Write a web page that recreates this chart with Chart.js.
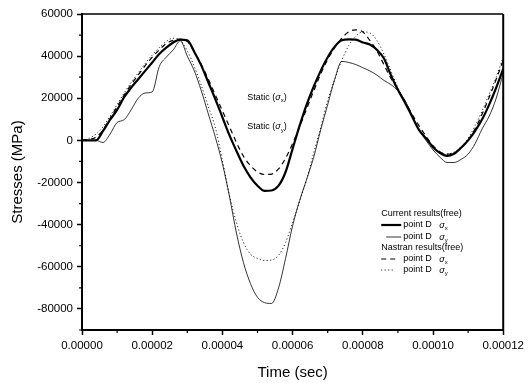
<!DOCTYPE html>
<html>
<head>
<meta charset="utf-8">
<script src="https://cdn.jsdelivr.net/npm/chart.js@4.4.1/dist/chart.umd.min.js"></script>
<style>
  html, body { margin: 0; padding: 0; background: #fff; }
  canvas { display: block; }
</style>
</head>
<body>
<canvas id="chart" width="528" height="383"></canvas>
<script>
// time in microseconds, converted to seconds when the datasets are built
const timeUs = [0, 2, 4, 6, 8, 10, 12, 14, 16, 18, 20, 22, 24, 26, 28, 30, 32, 34, 36, 38,
  40, 42, 44, 46, 48, 50, 52, 54, 56, 58, 60, 62, 64, 66, 68, 70, 72, 74, 76, 78,
  80, 82, 84, 86, 88, 90, 92, 94, 96, 98, 100, 102, 104, 106, 108, 110, 112, 114, 116, 118, 120];

// Current results (free), point D sigma_x  (thick solid)
const currentSx = [0, 0, 0, 4500, 9800, 14500, 20500, 25000, 29000, 33000, 37000, 41000, 44000, 46500, 47800, 47500,
  42000, 35500, 27500, 19500, 11000, 2500, -5000, -12000, -17500, -21500, -24000, -23800, -21500, -15000,
  -4000, 7000, 17000, 25500, 33000, 39500, 44500, 47500, 48000, 47800, 46500, 45500, 43000, 39000, 31000,
  24000, 18000, 11500, 5000, 1000, -3200, -6000, -7300, -6300, -3500, 0, 4500, 10000, 17000, 25000, 34000];

// Current results (free), point D sigma_y  (thin solid)
const currentSy = [0, 0, 0, -1000, 3000, 8500, 9800, 14500, 20000, 22500, 23000, 35000, 39500, 43000, 47300, 40000,
  33000, 23500, 12500, 1500, -11000, -26500, -44000, -58000, -68000, -74500, -77000, -77400, -70000, -56000,
  -40500, -28500, -18500, -8000, 5000, 17000, 29000, 37500, 37000, 36000, 34500, 33000, 31000, 28500, 26500,
  23500, 19000, 12000, 5000, 0, -4500, -8000, -10500, -10500, -9000, -6500, -1500, 5500, 11500, 20000, 32000];

// Nastran results (free), point D sigma_x  (dashed)
const nastranSx = [0, 500, 1500, 5000, 10500, 16000, 21500, 26500, 31000, 35500, 39500, 43000, 46000, 47500, 48000, 47000,
  42000, 36000, 29000, 21500, 14000, 6500, -1000, -7500, -12000, -15000, -16200, -16000, -13500, -8500,
  -1500, 6500, 15000, 23500, 31500, 38500, 44000, 48500, 51500, 52500, 51500, 47500, 42500, 36000, 29500,
  24000, 18500, 12500, 7000, 2000, -2500, -5500, -6500, -6000, -3500, 0, 5500, 12500, 20500, 29000, 38000];

// Nastran results (free), point D sigma_y  (dotted)
const nastranSy = [0, 1000, 3000, 6500, 11500, 17000, 22500, 27500, 32000, 36500, 40500, 44000, 47000, 48500, 47500, 42500,
  35000, 26000, 16000, 6000, -9500, -26000, -39000, -48500, -54000, -56000, -57000, -56800, -54500, -48500,
  -39000, -29000, -18500, -6000, 6000, 19000, 29000, 38000, 45000, 49500, 51500, 51000, 47500, 41000, 33000,
  25000, 18000, 11500, 5500, 1000, -3000, -5500, -6500, -5500, -3000, 1000, 7000, 14000, 22000, 30000, 39500];

const xTicks = [0, 0.00002, 0.00004, 0.00006, 0.00008, 0.0001, 0.00012];
const xMinorTicks = [0.00001, 0.00003, 0.00005, 0.00007, 0.00009, 0.00011];
const yTicks = [-80000, -60000, -40000, -20000, 0, 20000, 40000, 60000];
const yMinorTicks = [-90000, -70000, -50000, -30000, -10000, 10000, 30000, 50000];

const FONT = "'Liberation Sans', Arial, sans-serif";

function toPoints(values) {
  return values.map((v, i) => ({ x: timeUs[i] * 1e-6, y: v }));
}

function drawSigma(ctx, x, y, sub, size) {
  ctx.font = `italic ${size}px ${FONT}`;
  ctx.fillText("\u03c3", x, y);
  const w = ctx.measureText("\u03c3").width;
  ctx.font = `${Math.round(size * 0.7)}px ${FONT}`;
  ctx.fillText(sub, x + w, y + size * 0.35);
  return w + ctx.measureText(sub).width;
}

function drawStatic(ctx, x, y, sub) {
  const size = 9;
  ctx.font = `${size}px ${FONT}`;
  ctx.fillText("Static (", x, y);
  let cx = x + ctx.measureText("Static (").width;
  cx += drawSigma(ctx, cx, y, sub, size);
  ctx.font = `${size}px ${FONT}`;
  ctx.fillText(")", cx, y);
}

const extrasPlugin = {
  id: "extrasPlugin",
  afterDraw(chart) {
    const { ctx, chartArea: area } = chart;
    const xs = chart.scales.x;
    const ys = chart.scales.y;

    ctx.save();
    ctx.strokeStyle = "#000";
    ctx.fillStyle = "#000";

    // top and right frame
    ctx.lineWidth = 1.5;
    ctx.beginPath();
    ctx.moveTo(area.left, area.top);
    ctx.lineTo(area.right, area.top);
    ctx.stroke();
    ctx.lineWidth = 2;
    ctx.beginPath();
    ctx.moveTo(area.right, area.top);
    ctx.lineTo(area.right, area.bottom + 1);
    ctx.stroke();

    // minor ticks, pointing outward
    ctx.lineWidth = 1.2;
    ctx.beginPath();
    xMinorTicks.forEach((v) => {
      const px = xs.getPixelForValue(v);
      ctx.moveTo(px, area.bottom);
      ctx.lineTo(px, area.bottom + 3);
    });
    yMinorTicks.forEach((v) => {
      const py = ys.getPixelForValue(v);
      ctx.moveTo(area.left, py);
      ctx.lineTo(area.left - 3, py);
    });
    ctx.stroke();

    // static labels
    ctx.textBaseline = "middle";
    ctx.textAlign = "left";
    const sx = xs.getPixelForValue(0.0000471);
    drawStatic(ctx, sx, ys.getPixelForValue(20500), "x");
    drawStatic(ctx, sx, ys.getPixelForValue(6400), "y");

    // legend
    const lx = area.right - 122;
    const rows = [214, 225, 237, 248, 259, 270];
    const size = 9;
    ctx.font = `${size}px ${FONT}`;
    ctx.fillText("Current results(free)", lx, rows[0]);
    ctx.fillText("Nastran results(free)", lx, rows[3]);

    const entries = [
      { row: rows[1], width: 2.2, dash: [], x0: lx, x1: lx + 20, sub: "x" },
      { row: rows[2], width: 0.8, dash: [], x0: lx + 5, x1: lx + 20, sub: "y" },
      { row: rows[4], width: 1.2, dash: [5, 4], x0: lx, x1: lx + 14, sub: "x" },
      { row: rows[5], width: 1, dash: [1, 2.5], x0: lx, x1: lx + 14, sub: "y" },
    ];
    entries.forEach((e) => {
      ctx.lineWidth = e.width;
      ctx.setLineDash(e.dash);
      ctx.beginPath();
      ctx.moveTo(e.x0, e.row);
      ctx.lineTo(e.x1, e.row);
      ctx.stroke();
      ctx.setLineDash([]);
      ctx.font = `${size}px ${FONT}`;
      ctx.fillText("point D", lx + 22, e.row);
      drawSigma(ctx, lx + 58, e.row, e.sub, size);
    });

    ctx.restore();
  },
};

const lineStyle = (data, width, dash) => ({
  data: toPoints(data),
  borderColor: "#000",
  backgroundColor: "#000",
  borderWidth: width,
  borderDash: dash,
  pointRadius: 0,
  fill: false,
  cubicInterpolationMode: "monotone",
});

new Chart(document.getElementById("chart").getContext("2d"), {
  type: "line",
  data: {
    datasets: [
      lineStyle(currentSx, 2.2, []),
      lineStyle(currentSy, 0.8, []),
      lineStyle(nastranSx, 1.2, [5, 4]),
      lineStyle(nastranSy, 1, [1, 2.5]),
    ],
  },
  plugins: [extrasPlugin],
  options: {
    responsive: false,
    animation: false,
    events: [],
    layout: { padding: { top: 14, right: 23, bottom: 0, left: 0 } },
    plugins: {
      legend: { display: false },
      tooltip: { enabled: false },
    },
    scales: {
      x: {
        type: "linear",
        min: 0,
        max: 0.00012,
        afterBuildTicks(axis) {
          axis.ticks = xTicks.map((v) => ({ value: v }));
        },
        afterFit(axis) {
          axis.height = 53;
        },
        ticks: {
          autoSkip: false,
          maxRotation: 0,
          color: "#000",
          padding: 4,
          font: { family: FONT, size: 11.5 },
          callback: (v) => Number(v).toFixed(5),
        },
        grid: { drawOnChartArea: false, tickLength: 5, tickWidth: 1.5, tickColor: "#000" },
        border: { display: true, color: "#000", width: 2 },
        title: {
          display: true,
          text: "Time (sec)",
          color: "#000",
          font: { family: FONT, size: 15 },
          padding: { top: 0, bottom: 1 },
        },
      },
      y: {
        min: -90000,
        max: 60000,
        afterBuildTicks(axis) {
          axis.ticks = yTicks.map((v) => ({ value: v }));
        },
        afterFit(axis) {
          axis.width = 82;
        },
        ticks: {
          autoSkip: false,
          color: "#000",
          padding: 4,
          font: { family: FONT, size: 11.5 },
          callback: (v) => String(v),
        },
        grid: { drawOnChartArea: false, tickLength: 5, tickWidth: 1.5, tickColor: "#000" },
        border: { display: true, color: "#000", width: 2 },
        title: {
          display: true,
          text: "Stresses (MPa)",
          color: "#000",
          font: { family: FONT, size: 15 },
          padding: { top: 9, bottom: 0 },
        },
      },
    },
  },
});
</script>
</body>
</html>
